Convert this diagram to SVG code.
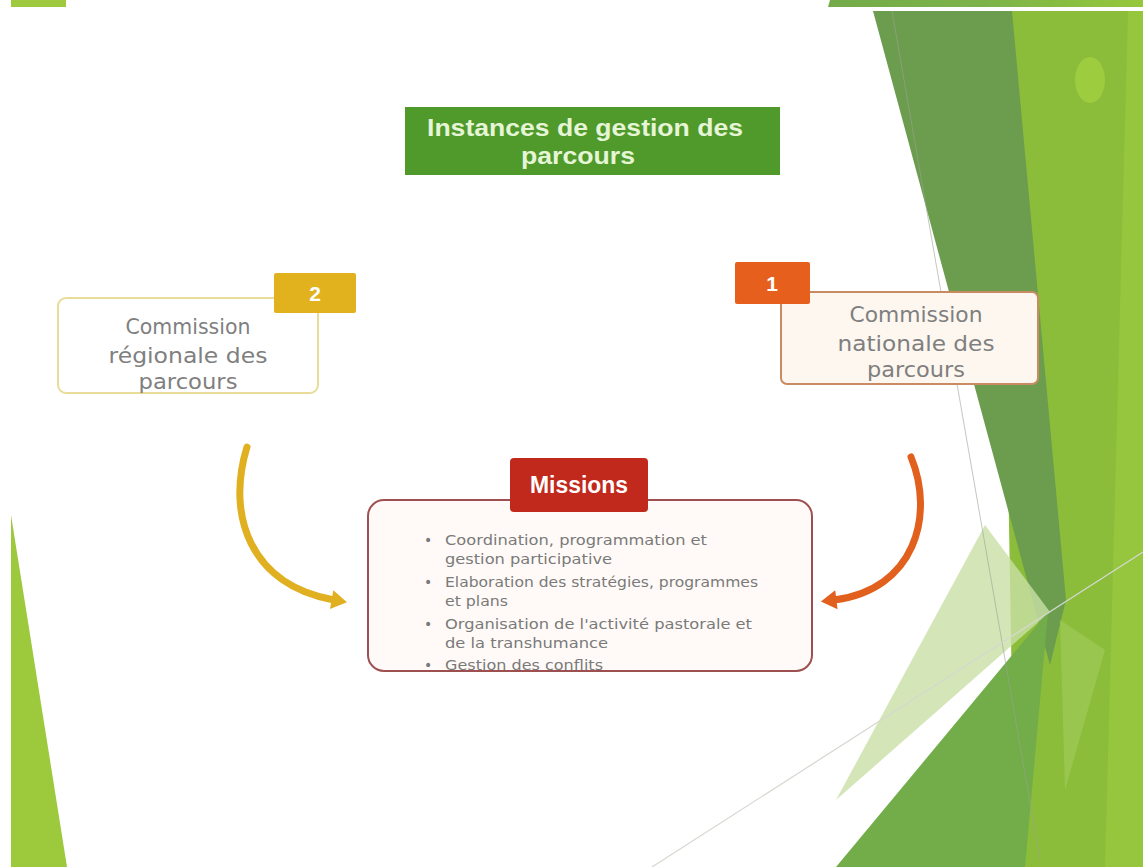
<svg xmlns="http://www.w3.org/2000/svg" width="1143" height="867" viewBox="0 0 1143 867">
  <defs>
    <style>
      .node-text { font-family: "DejaVu Sans", "Liberation Sans", sans-serif; font-size: 21px; fill: #7f7f7f; text-anchor: middle; }
      .badge-text { font-family: "Liberation Sans", Arial, sans-serif; font-weight: bold; fill: #ffffff; text-anchor: middle; }
      .bullet { font-family: "DejaVu Sans", "Liberation Sans", sans-serif; font-size: 14px; fill: #7a7a7a; }
      .title-text { font-family: "Liberation Sans", Arial, sans-serif; font-weight: bold; font-size: 24px; fill: #e6f5d6; text-anchor: middle; }
      .conn { fill: none; stroke-width: 7; stroke-linecap: round; }
    </style>
    <marker id="arrGold" markerUnits="userSpaceOnUse" markerWidth="24" markerHeight="24" viewBox="-2 -10 16 20" refX="2" refY="0" orient="auto">
      <path d="M0,-8 L13,0 L0,8 z" fill="#e0b020"/>
    </marker>
    <marker id="arrOrange" markerUnits="userSpaceOnUse" markerWidth="24" markerHeight="24" viewBox="-2 -10 16 20" refX="2" refY="0" orient="auto">
      <path d="M0,-8 L13,0 L0,8 z" fill="#e2601e"/>
    </marker>
    <linearGradient id="topStrip" x1="0" y1="0" x2="1" y2="0">
      <stop offset="0" stop-color="#73ab4a"/>
      <stop offset="0.5" stop-color="#7cb349"/>
      <stop offset="1" stop-color="#96c83b"/>
    </linearGradient>
  </defs>

  <!-- background -->
  <rect x="0" y="0" width="1143" height="867" fill="#ffffff"/>
  <g id="background">
    <rect x="11" y="0" width="55" height="7" fill="#9fc93f"/>
    <polygon points="830,0 1143,0 1143,7 828,7" fill="url(#topStrip)"/>
    <polygon points="11,515 11,867 67,867" fill="#9dc93c"/>
    <polygon points="1000,11 1143,11 1143,867 1015,867" fill="#8bbd3a"/>
    <polygon points="1128,11 1143,11 1143,867 1105,867" fill="#95c63e"/>
    <ellipse cx="1090" cy="80" rx="15" ry="23" fill="#9dcc3e"/>
    <polygon points="873,11 1012,11 1066,600 1050,665" fill="#6c9c4e"/>
    <polygon points="985,525 1050,612 836,800" fill="#c9e0a6" opacity="0.8"/>
    <polygon points="836,867 1048,612 1025,867" fill="#72ad49"/>
    <polygon points="1060,620 1105,650 1065,790" fill="#a8d064" opacity="0.5"/>
    <line x1="892" y1="11" x2="1040" y2="860" stroke="#9aa592" stroke-width="1" opacity="0.6"/>
    <line x1="652" y1="867" x2="1143" y2="552" stroke="#d4d8cf" stroke-width="1.2"/>
  </g>

  <!-- connectors -->
  <g id="connectors">
    <path class="conn" d="M247,447 C226,515 250,585 334,600" stroke="#e0b020" marker-end="url(#arrGold)"/>
    <path class="conn" d="M911,457 C935,515 915,590 834,600" stroke="#e2601e" marker-end="url(#arrOrange)"/>
  </g>

  <!-- title -->
  <g id="title">
    <rect x="405" y="107" width="375" height="68" fill="#4f9a2b"/>
    <text class="title-text" x="585" y="136" textLength="316" lengthAdjust="spacingAndGlyphs">Instances de gestion des</text>
    <text class="title-text" x="578" y="164" textLength="114" lengthAdjust="spacingAndGlyphs">parcours</text>
  </g>

  <!-- node 2 : regional -->
  <g id="node-regional">
    <rect x="58" y="298" width="260" height="95" rx="8" fill="#ffffff" stroke="#e8dc98" stroke-width="2"/>
    <rect x="274" y="273" width="82" height="40" rx="2" fill="#e1b21e"/>
    <text class="badge-text" x="315" y="301" font-size="21">2</text>
    <text class="node-text" x="188" y="334" textLength="125" lengthAdjust="spacingAndGlyphs">Commission</text>
    <text class="node-text" x="188" y="363" textLength="159" lengthAdjust="spacingAndGlyphs">régionale des</text>
    <text class="node-text" x="188" y="389" textLength="99" lengthAdjust="spacingAndGlyphs">parcours</text>
  </g>

  <!-- node 1 : national -->
  <g id="node-national">
    <rect x="781" y="292" width="257" height="92" rx="6" fill="#fdf7f0" stroke="#c98c62" stroke-width="2"/>
    <rect x="735" y="262" width="75" height="42" rx="2" fill="#e65f1c"/>
    <text class="badge-text" x="772" y="291" font-size="21">1</text>
    <text class="node-text" x="916" y="322" textLength="133" lengthAdjust="spacingAndGlyphs">Commission</text>
    <text class="node-text" x="916" y="351" textLength="157" lengthAdjust="spacingAndGlyphs">nationale des</text>
    <text class="node-text" x="916" y="377" textLength="98" lengthAdjust="spacingAndGlyphs">parcours</text>
  </g>

  <!-- missions -->
  <g id="node-missions">
    <rect x="368" y="500" width="444" height="171" rx="16" fill="#fffaf7" stroke="#9e5050" stroke-width="2"/>
    <rect x="510" y="458" width="138" height="54" rx="4" fill="#c2291d"/>
    <text class="badge-text" x="579" y="493" font-size="23" textLength="98" lengthAdjust="spacingAndGlyphs">Missions</text>
    <text class="bullet" x="424" y="545">•</text>
    <text class="bullet" x="445" y="545" textLength="262" lengthAdjust="spacingAndGlyphs">Coordination, programmation et</text>
    <text class="bullet" x="445" y="564" textLength="167" lengthAdjust="spacingAndGlyphs">gestion participative</text>
    <text class="bullet" x="424" y="587">•</text>
    <text class="bullet" x="445" y="587" textLength="313" lengthAdjust="spacingAndGlyphs">Elaboration des stratégies, programmes</text>
    <text class="bullet" x="445" y="606" textLength="63" lengthAdjust="spacingAndGlyphs">et plans</text>
    <text class="bullet" x="424" y="629">•</text>
    <text class="bullet" x="445" y="629" textLength="307" lengthAdjust="spacingAndGlyphs">Organisation de l'activité pastorale et</text>
    <text class="bullet" x="445" y="648" textLength="163" lengthAdjust="spacingAndGlyphs">de la transhumance</text>
    <text class="bullet" x="424" y="670">•</text>
    <text class="bullet" x="445" y="670" textLength="158" lengthAdjust="spacingAndGlyphs">Gestion des conflits</text>
  </g>
</svg>
